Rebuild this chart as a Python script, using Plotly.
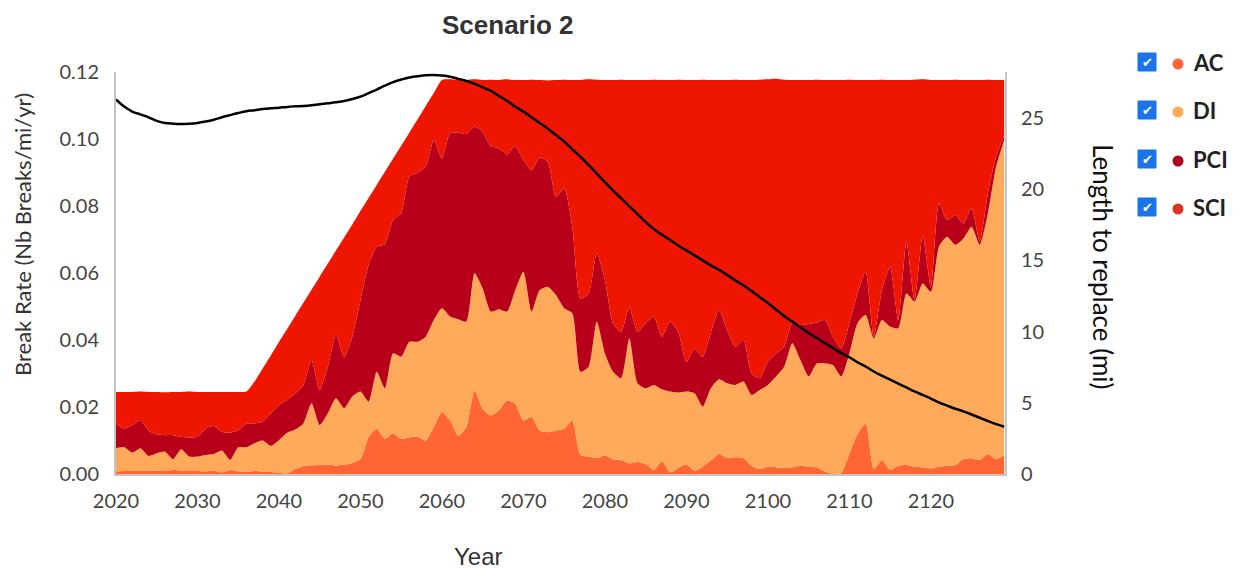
import plotly.graph_objects as go

years = list(range(2020, 2130))

ac = [0.0008, 0.0009, 0.0010, 0.0009, 0.0010, 0.0010, 0.0009, 0.0012, 0.0010, 0.0009,
      0.0009, 0.0008, 0.0010, 0.0005, 0.0012, 0.0008, 0.0006, 0.0009, 0.0007, 0.0006,
      0.0004, 0.0002, 0.0015, 0.0024, 0.0026, 0.0027, 0.0028, 0.0025, 0.0028, 0.0033,
      0.0045, 0.0110, 0.0135, 0.0105, 0.0122, 0.0105, 0.0110, 0.0112, 0.0100, 0.0140,
      0.0185, 0.0160, 0.0115, 0.0140, 0.0250, 0.0195, 0.0175, 0.0190, 0.0220, 0.0210,
      0.0160, 0.0170, 0.0130, 0.0125, 0.0130, 0.0135, 0.0160, 0.0057, 0.0052, 0.0047,
      0.0055, 0.0044, 0.0042, 0.0032, 0.0036, 0.0030, 0.0012, 0.0038, 0.0005, 0.0018,
      0.0028, 0.0010, 0.0022, 0.0040, 0.0060, 0.0048, 0.0050, 0.0048, 0.0025, 0.0015,
      0.0022, 0.0020, 0.0018, 0.0020, 0.0025, 0.0022, 0.0020, 0.0007, 0.0000, 0.0003,
      0.0060, 0.0120, 0.0150, 0.0015, 0.0042, 0.0012, 0.0025, 0.0027, 0.0022, 0.0020,
      0.0017, 0.0022, 0.0025, 0.0027, 0.0045, 0.0047, 0.0042, 0.0060, 0.0045, 0.0055]

di = [0.0069, 0.0071, 0.0054, 0.0068, 0.0044, 0.0052, 0.0058, 0.0032, 0.0064, 0.0043,
      0.0043, 0.0049, 0.0050, 0.0065, 0.0030, 0.0072, 0.0074, 0.0083, 0.0093, 0.0078,
      0.0097, 0.0121, 0.0118, 0.0127, 0.0185, 0.0119, 0.0153, 0.0201, 0.0168, 0.0198,
      0.0201, 0.0106, 0.0170, 0.0151, 0.0238, 0.0245, 0.0285, 0.0283, 0.0310, 0.0320,
      0.0310, 0.0310, 0.0347, 0.0315, 0.0349, 0.0359, 0.0310, 0.0302, 0.0265, 0.0339,
      0.0444, 0.0315, 0.0419, 0.0434, 0.0404, 0.0360, 0.0320, 0.0248, 0.0268, 0.0408,
      0.0305, 0.0261, 0.0244, 0.0373, 0.0235, 0.0226, 0.0254, 0.0215, 0.0241, 0.0225,
      0.0218, 0.0231, 0.0179, 0.0216, 0.0223, 0.0223, 0.0216, 0.0228, 0.0211, 0.0236,
      0.0244, 0.0271, 0.0302, 0.0370, 0.0315, 0.0269, 0.0310, 0.0323, 0.0325, 0.0288,
      0.0300, 0.0330, 0.0325, 0.0390, 0.0418, 0.0428, 0.0410, 0.0512, 0.0493, 0.0549,
      0.0527, 0.0657, 0.0683, 0.0657, 0.0658, 0.0691, 0.0642, 0.0718, 0.0872, 0.0942]

pci = [0.0074, 0.0056, 0.0082, 0.0084, 0.0075, 0.0057, 0.0049, 0.0072, 0.0037, 0.0057,
       0.0059, 0.0079, 0.0083, 0.0056, 0.0081, 0.0051, 0.0071, 0.0059, 0.0056, 0.0097,
       0.0105, 0.0098, 0.0108, 0.0115, 0.0129, 0.0105, 0.0139, 0.0189, 0.0154, 0.0179,
       0.0273, 0.0408, 0.0374, 0.0430, 0.0398, 0.0428, 0.0493, 0.0504, 0.0507, 0.0537,
       0.0447, 0.0547, 0.0557, 0.0560, 0.0438, 0.0468, 0.0494, 0.0480, 0.0469, 0.0430,
       0.0333, 0.0422, 0.0396, 0.0373, 0.0294, 0.0358, 0.0258, 0.0219, 0.0219, 0.0204,
       0.0220, 0.0145, 0.0139, 0.0093, 0.0154, 0.0194, 0.0204, 0.0157, 0.0209, 0.0182,
       0.0089, 0.0134, 0.0149, 0.0164, 0.0207, 0.0159, 0.0114, 0.0124, 0.0064, 0.0035,
       0.0069, 0.0069, 0.0060, 0.0060, 0.0105, 0.0157, 0.0122, 0.0130, 0.0085, 0.0084,
       0.0090, 0.0089, 0.0129, 0.0005, 0.0089, 0.0179, 0.0025, 0.0155, 0.0004, 0.0144,
       0.0015, 0.0129, 0.0050, 0.0089, 0.0045, 0.0055, 0.0010, 0.0060, 0.0030, 0.0015]

sci = [0.0094, 0.0109, 0.0099, 0.0085, 0.0116, 0.0126, 0.0128, 0.0129, 0.0134, 0.0137,
       0.0134, 0.0109, 0.0102, 0.0119, 0.0122, 0.0114, 0.0095, 0.0125, 0.0159, 0.0173,
       0.0188, 0.0212, 0.0231, 0.0245, 0.0210, 0.0338, 0.0308, 0.0252, 0.0356, 0.0335,
       0.0266, 0.0200, 0.0184, 0.0216, 0.0183, 0.0202, 0.0131, 0.0159, 0.0181, 0.0140,
       0.0234, 0.0161, 0.0158, 0.0161, 0.0141, 0.0154, 0.0198, 0.0204, 0.0224, 0.0197,
       0.0239, 0.0270, 0.0231, 0.0243, 0.0348, 0.0324, 0.0438, 0.0652, 0.0639, 0.0518,
       0.0596, 0.0726, 0.0752, 0.0678, 0.0751, 0.0726, 0.0707, 0.0766, 0.0721, 0.0752,
       0.0841, 0.0801, 0.0827, 0.0756, 0.0686, 0.0746, 0.0797, 0.0776, 0.0876, 0.0891,
       0.0843, 0.0820, 0.0797, 0.0726, 0.0731, 0.0728, 0.0725, 0.0716, 0.0766, 0.0801,
       0.0727, 0.0637, 0.0572, 0.0766, 0.0628, 0.0557, 0.0716, 0.0482, 0.0658, 0.0465,
       0.0617, 0.0368, 0.0418, 0.0404, 0.0428, 0.0383, 0.0482, 0.0339, 0.0229, 0.0164]

length_to_replace = [
    26.3, 25.8, 25.45, 25.25, 25.05, 24.8, 24.65, 24.6, 24.58, 24.6,
    24.65, 24.75, 24.88, 25.05, 25.2, 25.35, 25.48, 25.55, 25.63, 25.68,
    25.72, 25.78, 25.82, 25.85, 25.9, 25.97, 26.03, 26.1, 26.2, 26.33,
    26.5, 26.75, 27.0, 27.28, 27.52, 27.7, 27.85, 27.93, 28.0, 28.02,
    27.98, 27.9, 27.75, 27.6, 27.4, 27.15, 26.9, 26.55, 26.2, 25.8,
    25.45, 25.05, 24.65, 24.25, 23.8, 23.35, 22.8, 22.28, 21.7, 21.1,
    20.5, 19.9, 19.35, 18.8, 18.25, 17.7, 17.2, 16.8, 16.43, 16.05,
    15.7, 15.35, 15.0, 14.65, 14.33, 13.98, 13.6, 13.25, 12.85, 12.42,
    12.0, 11.55, 11.1, 10.7, 10.3, 9.9, 9.55, 9.2, 8.85, 8.5,
    8.2, 7.85, 7.55, 7.2, 6.9, 6.62, 6.35, 6.08, 5.8, 5.55,
    5.3, 5.02, 4.8, 4.58, 4.4, 4.18, 3.95, 3.72, 3.5, 3.32]

series_names = ["AC", "DI", "PCI", "SCI"]
series_values = [ac, di, pci, sci]
fill_colors = ["#ff6633", "#ffa95a", "#b8001a", "#ee1600"]
dot_colors = ["#ff6633", "#ffaa55", "#aa0022", "#dd3322"]

x_ticks = list(range(2020, 2121, 10))
y_ticks = [0, 0.02, 0.04, 0.06, 0.08, 0.10, 0.12]
y2_ticks = [0, 5, 10, 15, 20, 25]

W, H = 1241, 571
L, R, T, B = 116, 236, 72, 97
PW, PH = W - L - R, H - T - B


def px(x):
    return (x - L) / PW


def py(y):
    return (H - B - y) / PH


fig = go.Figure()
for name, vals, col in zip(series_names, series_values, fill_colors):
    fig.add_trace(go.Scatter(
        x=years, y=vals, name=name, stackgroup="one",
        mode="lines", line=dict(width=0, color=col, shape="spline", smoothing=0.6),
        fillcolor=col, showlegend=False))

fig.add_trace(go.Scatter(
    x=years, y=length_to_replace, name="Length to replace", yaxis="y2",
    mode="lines", line=dict(color="black", width=2.5, shape="spline"),
    showlegend=False))

tickfont = dict(family="Lato", size=20, color="#444444")

fig.update_layout(
    width=W, height=H,
    margin=dict(l=L, r=R, t=T, b=B),
    paper_bgcolor="white", plot_bgcolor="white",
    xaxis=dict(range=[2020, 2129.1], tickvals=x_ticks, showgrid=False, zeroline=False,
               showline=True, linecolor="#c4c4c4", linewidth=2, ticks="",
               tickfont=tickfont, ticklabelstandoff=8),
    yaxis=dict(range=[0, 0.12], tickvals=y_ticks, tickformat=".2f", showgrid=False,
               zeroline=False, showline=True, linecolor="#c4c4c4", linewidth=2,
               ticks="", tickfont=tickfont, ticklabelstandoff=11),
    yaxis2=dict(range=[0, 402 / (71.2 / 5)], tickvals=y2_ticks,
                overlaying="y", side="right", showgrid=False, zeroline=False,
                showline=True, linecolor="#c4c4c4", linewidth=2, ticks="",
                tickfont=tickfont, ticklabelstandoff=10),
)

ann = []
ann.append(dict(text="<b>Scenario 2</b>", x=px(508), y=py(25), xref="paper", yref="paper",
                showarrow=False, xanchor="center", yanchor="middle",
                font=dict(family="Liberation Sans", size=26, color="#333333")))
ann.append(dict(text="Year", x=px(478), y=py(556), xref="paper", yref="paper",
                showarrow=False, xanchor="center", yanchor="middle",
                font=dict(family="Liberation Sans", size=24, color="#333333")))
ann.append(dict(text="Break Rate (Nb Breaks/mi/yr)", x=px(22), y=py(235), xref="paper",
                yref="paper", showarrow=False, xanchor="center", yanchor="middle",
                textangle=-90, font=dict(family="Lato", size=22, color="#333333")))
ann.append(dict(text="Length to replace (mi)", x=px(1103), y=py(266), xref="paper",
                yref="paper", showarrow=False, xanchor="center", yanchor="middle",
                textangle=90, font=dict(family="Lato", size=26, color="#111111")))

shapes = []
legend_y = [62, 110, 159, 207]
for name, col, ly in zip(series_names, dot_colors, legend_y):
    shapes.append(dict(type="rect", xref="paper", yref="paper",
                       xsizemode="pixel", ysizemode="pixel",
                       xanchor=px(1147), yanchor=py(ly), x0=-9, x1=9, y0=-9, y1=9,
                       fillcolor="#1a73e8", line=dict(color="#1a73e8", width=1)))
    ann.append(dict(text="✔", x=px(1147), y=py(ly), xref="paper", yref="paper",
                    showarrow=False, xanchor="center", yanchor="middle",
                    font=dict(family="DejaVu Sans", size=13, color="white")))
    shapes.append(dict(type="circle", xref="paper", yref="paper",
                       xsizemode="pixel", ysizemode="pixel",
                       xanchor=px(1178), yanchor=py(ly + 2), x0=-5.5, x1=5.5, y0=-5.5, y1=5.5,
                       fillcolor=col, line=dict(color=col, width=0)))
    ann.append(dict(text="<b>" + name + "</b>", x=px(1191), y=py(ly), xref="paper",
                    yref="paper", showarrow=False, xanchor="left", yanchor="middle",
                    font=dict(family="Lato", size=22, color="#222222")))

fig.update_layout(annotations=ann, shapes=shapes)
fig.write_html("out.html", config={"displayModeBar": False},
               post_script="document.body.style.margin='0px';")
